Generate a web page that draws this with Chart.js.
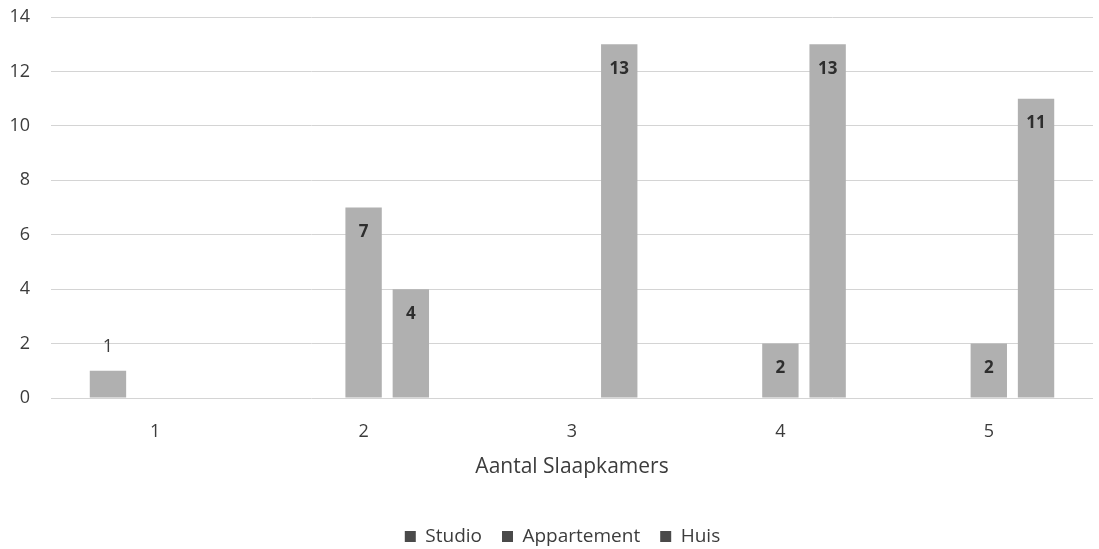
<!DOCTYPE html>
<html>
<head>
<meta charset="utf-8">
<script src="https://cdn.jsdelivr.net/npm/chart.js@4/dist/chart.umd.min.js"></script>
<style>
  html, body { margin: 0; padding: 0; background: #ffffff; }
  #wrap { width: 1099px; height: 549px; position: relative; }
</style>
</head>
<body>
<div id="wrap"><canvas id="chart" width="1099" height="549"></canvas></div>
<script>
// Aantal slaapkamers per woningtype
const categories = ['1', '2', '3', '4', '5'];
const studio = [1, 0, 0, 0, 0];
const appartement = [0, 7, 0, 2, 2];
const huis = [0, 4, 13, 13, 11];
const yTicks = [0, 2, 4, 6, 8, 10, 12, 14];

const FONT = "'Open Sans', 'Noto Sans', sans-serif";
const TEXT = '#3c3c3c';
const BAR = '#b0b0b0';
const MARK = '#4a4a4a';

// Value labels: inside the top of tall bars, above short ones
const valueLabels = {
  id: 'valueLabels',
  afterDatasetsDraw(chart) {
    const ctx = chart.ctx;
    ctx.save();
    ctx.textAlign = 'center';
    ctx.textBaseline = 'middle';
    chart.data.datasets.forEach((ds, di) => {
      const meta = chart.getDatasetMeta(di);
      meta.data.forEach((bar, i) => {
        const v = ds.data[i];
        if (!v) return;
        const h = bar.base - bar.y;
        if (h > 40) {
          ctx.font = "bold 17px " + FONT;
          ctx.fillStyle = '#2e2e2e';
          ctx.fillText(String(v), bar.x, bar.y + 25);
        } else {
          ctx.font = "18px " + FONT;
          ctx.fillStyle = TEXT;
          ctx.fillText(String(v), bar.x, bar.y - 24);
        }
      });
    });
    ctx.restore();
  }
};

// Centre the legend row under the plot area rather than the whole canvas
const legendShift = {
  id: 'legendShift',
  afterLayout(chart) {
    const lg = chart.legend;
    if (!lg) return;
    lg.left += 16;
    lg.right += 16;
  }
};

const mkSet = (label, data) => ({
  label, data,
  backgroundColor: BAR,
  borderWidth: 0,
  categoryPercentage: 0.68,
  barPercentage: 0.77
});

new Chart(document.getElementById('chart'), {
  type: 'bar',
  data: {
    labels: categories,
    datasets: [
      mkSet('Studio', studio),
      mkSet('Appartement', appartement),
      mkSet('Huis', huis)
    ]
  },
  options: {
    responsive: false,
    animation: false,
    layout: { padding: { top: 17, right: 6, bottom: -7, left: 0 } },
    plugins: {
      tooltip: { enabled: false },
      legend: {
        position: 'bottom',
        labels: {
          font: { family: FONT, size: 19 },
          color: TEXT,
          boxWidth: 11,
          boxHeight: 11,
          padding: 20,
          generateLabels(chart) {
            return chart.data.datasets.map((ds, i) => ({
              text: ds.label,
              fillStyle: MARK,
              strokeStyle: MARK,
              lineWidth: 0,
              hidden: false,
              datasetIndex: i,
              fontColor: TEXT
            }));
          }
        }
      }
    },
    scales: {
      x: {
        grid: { display: false, drawTicks: false },
        border: { display: false },
        ticks: { font: { family: FONT, size: 18 }, color: TEXT, padding: 23 },
        title: {
          display: true,
          text: 'Aantal Slaapkamers',
          font: { family: FONT, size: 21 },
          color: TEXT,
          padding: { top: 4, bottom: 27 }
        },
        afterFit(scale) { scale.height = 109; }
      },
      y: {
        min: 0,
        max: 14,
        afterBuildTicks(scale) { scale.ticks = yTicks.map(v => ({ value: v })); },
        grid: { color: '#d4d4d4', lineWidth: 1, drawTicks: false },
        border: { display: false },
        ticks: { font: { family: FONT, size: 18 }, color: TEXT, padding: 21 },
        afterFit(scale) {
          scale.width = 51;
          scale.paddingTop = 0;
          scale.paddingBottom = 0;
        }
      }
    }
  },
  plugins: [valueLabels, legendShift]
});
</script>
</body>
</html>
